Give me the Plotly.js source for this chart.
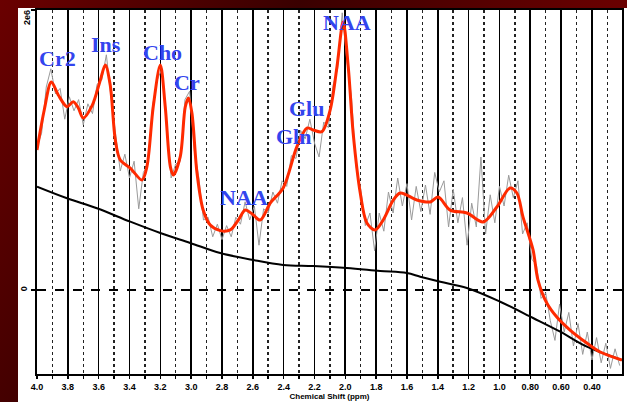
<!DOCTYPE html>
<html>
<head>
<meta charset="utf-8">
<script src="https://cdn.plot.ly/plotly-3.0.1.min.js"></script>
<style>
html,body{margin:0;padding:0;width:627px;height:402px;overflow:hidden;}
body{background:linear-gradient(120deg,#6a0000 0%,#3a0000 35%,#5a0000 60%,#8c0000 100%);position:relative;}
#panel{position:absolute;left:18px;top:8px;width:609px;height:394px;background:#fff;}
#chart{position:absolute;left:0;top:0;width:627px;height:402px;}
</style>
</head>
<body>
<div id="panel"></div>
<div id="chart"></div>
<script>
// Fitted spectrum (red), chemical shift in ppm, intensity in units of 1e6
const ppmFit = [4.000,3.953,3.907,3.862,3.805,3.765,3.732,3.700,3.641,3.589,3.557,3.525,3.492,3.460,3.395,3.319,3.287,3.246,3.200,3.168,3.135,3.116,3.071,3.038,3.017,2.995,2.962,2.922,2.876,2.811,2.746,2.694,2.649,2.604,2.552,2.487,2.403,2.314,2.249,2.208,2.152,2.098,2.054,2.014,1.981,1.949,1.903,1.860,1.806,1.754,1.688,1.643,1.536,1.449,1.398,1.320,1.211,1.106,1.017,0.931,0.887,0.847,0.782,0.750,0.693,0.628,0.542,0.433,0.346,0.206];
const fitValues = [1.000,1.286,1.486,1.393,1.309,1.345,1.300,1.229,1.321,1.500,1.607,1.464,1.071,0.929,0.871,0.786,0.881,1.309,1.607,1.309,0.881,0.821,0.952,1.309,1.371,1.264,0.836,0.571,0.464,0.424,0.429,0.500,0.571,0.543,0.500,0.621,0.729,1.024,1.157,1.143,1.131,1.286,1.595,1.914,1.595,1.121,0.693,0.479,0.429,0.500,0.643,0.693,0.643,0.629,0.664,0.571,0.550,0.486,0.593,0.729,0.693,0.521,0.286,0.071,-0.093,-0.193,-0.286,-0.379,-0.443,-0.500];

// Baseline (black)
const ppmBase = [4.000,3.805,3.611,3.395,3.200,3.006,2.811,2.597,2.403,2.208,1.990,1.774,1.601,1.514,1.384,1.211,0.995,0.782,0.606,0.433,0.206];
const baseValues = [0.738,0.655,0.584,0.488,0.407,0.336,0.264,0.214,0.179,0.171,0.157,0.136,0.121,0.095,0.059,0.014,-0.084,-0.200,-0.298,-0.405,-0.500];

// Raw spectrum (gray)
const ppmRaw = [4.00,3.97,3.94,3.91,3.88,3.85,3.82,3.79,3.76,3.73,
3.70,3.67,3.64,3.61,3.58,3.55,3.52,3.49,3.46,3.43,
3.40,3.37,3.34,3.31,3.28,3.25,3.22,3.19,3.16,3.13,
3.10,3.07,3.04,3.01,2.98,2.95,2.92,2.89,2.86,2.83,
2.80,2.77,2.74,2.71,2.68,2.65,2.62,2.59,2.56,2.53,
2.50,2.47,2.44,2.41,2.38,2.35,2.32,2.29,2.26,2.23,
2.20,2.17,2.14,2.11,2.08,2.05,2.02,1.99,1.96,1.93,
1.90,1.87,1.84,1.81,1.78,1.75,1.72,1.69,1.66,1.63,
1.60,1.57,1.54,1.51,1.48,1.45,1.42,1.39,1.36,1.33,
1.30,1.27,1.24,1.21,1.18,1.15,1.12,1.09,1.06,1.03,
1.00,0.97,0.94,0.91,0.88,0.85,0.82,0.79,0.76,0.73,
0.70,0.67,0.64,0.61,0.58,0.55,0.52,0.49,0.46,0.43,
0.40,0.37,0.34,0.31,0.28,0.25,0.22];
const rawValues = [1.02,1.12,1.45,1.58,1.40,1.44,1.22,1.38,1.28,1.36,
1.18,1.33,1.26,1.47,1.50,1.68,1.38,1.12,0.85,0.97,
0.80,0.92,0.58,0.84,0.90,1.32,1.50,1.58,1.20,0.80,
0.90,0.92,1.36,1.42,1.00,0.80,0.50,0.52,0.38,0.47,
0.36,0.46,0.38,0.52,0.47,0.63,0.50,0.60,0.32,0.58,
0.55,0.70,0.62,0.78,0.74,0.96,0.94,1.14,1.08,1.22,
1.05,0.95,1.20,1.16,1.46,1.58,1.98,1.64,1.38,0.88,
0.72,0.46,0.55,0.28,0.55,0.42,0.70,0.55,0.80,0.60,
0.76,0.50,0.74,0.56,0.75,0.54,0.84,0.70,0.78,0.45,
0.72,0.48,0.66,0.32,0.62,0.45,0.95,0.40,0.68,0.48,
0.74,0.60,0.82,0.66,0.78,0.40,0.48,0.22,0.18,-0.06,
-0.02,-0.22,-0.36,-0.10,-0.30,-0.16,-0.40,-0.24,-0.46,-0.30,
-0.50,-0.34,-0.52,-0.38,-0.56,-0.42,-0.54];

// Metabolite labels
const labelText = ["Cr2","Ins","Cho","Cr","NAA","Glu","Gln","NAA"];
const labelPpm = [3.868,3.554,3.187,3.025,2.656,2.254,2.338,1.988];
const labelY = [1.657,1.757,1.700,1.479,0.664,1.300,1.100,1.914];

// Axis ticks
const majorTicks = [4.0,3.8,3.6,3.4,3.2,3.0,2.8,2.6,2.4,2.2,2.0,1.8,1.6,1.4,1.2,1.0,0.8,0.6,0.4];
const majorLabels = ["4.0","3.8","3.6","3.4","3.2","3.0","2.8","2.6","2.4","2.2","2.0","1.8","1.6","1.4","1.2","1.0","0.80","0.60","0.40"];
const minorTicks = [3.9,3.7,3.5,3.3,3.1,2.9,2.7,2.5,2.3,2.1,1.9,1.7,1.5,1.3,1.1,0.9,0.7,0.5,0.3];
const yTicks = [0,2];
const yLabels = ["0",""];
const yTopLabel = "2e6";

const traces = [
  {x: ppmRaw, y: rawValues, type:'scatter', mode:'lines', line:{color:'#9a9a9a', width:1}, hoverinfo:'skip'},
  {x: ppmBase, y: baseValues, type:'scatter', mode:'lines', line:{color:'#000', width:2, shape:'spline'}, hoverinfo:'skip'},
  {x: ppmFit, y: fitValues, type:'scatter', mode:'lines', line:{color:'#ff2a00', width:3, shape:'spline', smoothing:0.9}, hoverinfo:'skip'}
];

const tickFont = {family:'Liberation Sans, Arial, sans-serif', size:9, color:'#000', weight:'bold'};

const annotations = labelText.map((t,i)=>({
  x: labelPpm[i], y: labelY[i], xref:'x', yref:'y', text:t, showarrow:false,
  font:{family:'Liberation Serif, Times New Roman, serif', size:22, color:'#3344ee', weight:'bold'},
  xanchor:'center', yanchor:'middle'
}));
annotations.push({
  x:0, xref:'paper', y:yTicks[1], yref:'y', text:yTopLabel, showarrow:false,
  textangle:-90, xanchor:'center', yanchor:'middle', xshift:-10, yshift:-8,
  font:tickFont
});

const layout = {
  width:627, height:402,
  margin:{l:37, r:5, t:10, b:28, pad:0},
  paper_bgcolor:'rgba(0,0,0,0)', plot_bgcolor:'#fff',
  showlegend:false,
  xaxis:{
    range:[4.0,0.205], tickmode:'array', tickvals:majorTicks, ticktext:majorLabels,
    showgrid:true, gridcolor:'#000', gridwidth:1.6,
    ticks:'outside', ticklen:3, tickcolor:'#000', tickwidth:1.5,
    showline:true, mirror:true, linecolor:'#000', linewidth:2,
    zeroline:false, tickfont:tickFont,
    minor:{tickvals:minorTicks, showgrid:true, griddash:'dot', gridcolor:'#222', gridwidth:1.5, ticks:'outside', ticklen:3, tickcolor:'#000', tickwidth:1.5},
    title:{text:'Chemical Shift (ppm)', font:{family:'Liberation Sans, Arial, sans-serif', size:8, color:'#000', weight:'bold'}, standoff:1}
  },
  yaxis:{
    range:[-0.6,2.0], tickmode:'array', tickvals:yTicks, ticktext:yLabels, tickangle:-90,
    showgrid:true, gridcolor:'#000', gridwidth:1.5, griddash:'dash',
    ticks:'outside', ticklen:4, tickcolor:'#000', tickwidth:1.5,
    showline:true, mirror:true, linecolor:'#000', linewidth:2,
    zeroline:false, tickfont:tickFont
  },
  annotations: annotations
};

Plotly.newPlot('chart', traces, layout, {staticPlot:true, displayModeBar:false});
</script>
</body>
</html>
